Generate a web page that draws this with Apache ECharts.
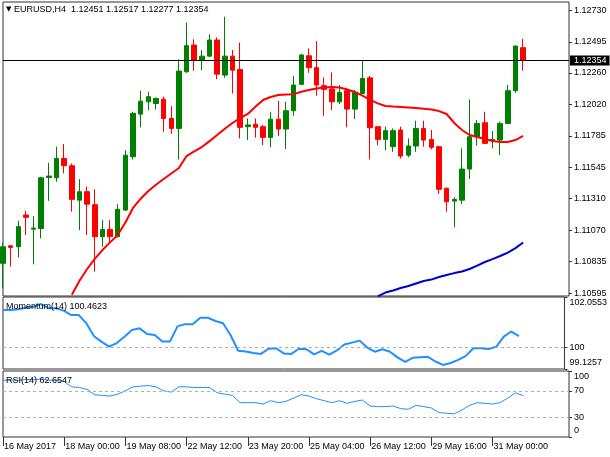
<!DOCTYPE html>
<html><head><meta charset="utf-8">
<script src="https://cdn.jsdelivr.net/npm/echarts@6/dist/echarts.min.js"></script>
<style>html,body{margin:0;padding:0;background:#fff}#c{width:610px;height:457px}</style>
</head><body><div id="c"></div>
<script>
const symbolName = 'EURUSD,H4';
const yearText = '2017';
const H6 = [0, 4, 8, 12, 16, 20];
const sessions = [
  ['16 May', [16, 20]], ['17 May', H6], ['18 May', H6], ['19 May', H6], ['21 May', [20]],
  ['22 May', H6], ['23 May', H6], ['24 May', H6], ['25 May', H6], ['26 May', H6],
  ['28 May', [20]], ['29 May', H6], ['30 May', H6], ['31 May', [0, 4, 8, 12, 16]]
];
const emptySlots = 6;

const opens = [1.10822,1.10954,1.10947,1.11187,1.11080,1.11085,1.11470,1.11468,1.11614,1.11559,
1.11299,1.11363,1.11265,1.11023,1.11078,1.11023,1.11224,1.11627,1.11949,1.12042,
1.12029,1.12062,1.11916,1.11841,1.12269,1.12471,1.12358,1.12387,1.12509,1.12244,
1.12387,1.12286,1.11854,1.11873,1.11854,1.11773,1.11911,1.11836,1.11975,1.12174,
1.12390,1.12300,1.12164,1.12139,1.12042,1.12126,1.11987,1.12105,1.12223,1.11854,
1.11758,1.11703,1.11829,1.11639,1.11708,1.11841,1.11758,1.11703,1.11388,1.11292,
1.11299,1.11534,1.11778,1.11884,1.11748,1.11753,1.11879,1.12126,1.12451];
const closes = [1.10947,1.10942,1.11099,1.11169,1.11088,1.11468,1.11481,1.11614,1.11559,1.11305,
1.11363,1.11269,1.11023,1.11078,1.11023,1.11230,1.11639,1.11955,1.12047,1.12081,
1.12067,1.11916,1.11841,1.12274,1.12466,1.12358,1.12387,1.12509,1.12251,1.12387,
1.12281,1.11849,1.11867,1.11849,1.11773,1.11911,1.11836,1.11975,1.12169,1.12396,
1.12300,1.12169,1.12136,1.12042,1.12113,1.11987,1.12113,1.12218,1.11846,1.11758,
1.11824,1.11824,1.11632,1.11708,1.11841,1.11753,1.11698,1.11381,1.11287,1.11305,
1.11534,1.11778,1.11879,1.11728,1.11758,1.11879,1.12126,1.12463,1.12354];
const lows = [1.10633,1.10797,1.10867,1.11036,1.10814,1.11010,1.11294,1.11438,1.11502,1.11212,
1.11073,1.11036,1.10759,1.10947,1.10985,1.11017,1.11219,1.11606,1.11849,1.11979,
1.11984,1.11816,1.11799,1.11606,1.12261,1.12276,1.12281,1.12383,1.12213,1.12223,
1.12105,1.11766,1.11753,1.11771,1.11715,1.11698,1.11784,1.11685,1.11936,1.12169,
1.12261,1.12088,1.11936,1.11979,1.12024,1.11849,1.11911,1.12101,1.11606,1.11715,
1.11677,1.11664,1.11614,1.11622,1.11664,1.11703,1.11682,1.11346,1.11212,1.11093,
1.11269,1.11458,1.11710,1.11723,1.11690,1.11639,1.11873,1.12111,1.12277];
const highs = [1.10978,1.10960,1.11143,1.11219,1.11178,1.11476,1.11581,1.11703,1.11723,1.11576,
1.11458,1.11401,1.11381,1.11148,1.11148,1.11269,1.11677,1.11967,1.12126,1.12119,
1.12075,1.12081,1.12009,1.12363,1.12640,1.12514,1.12433,1.12552,1.12529,1.12685,
1.12433,1.12489,1.11916,1.11916,1.11867,1.11967,1.12050,1.12042,1.12237,1.12403,
1.12446,1.12501,1.12226,1.12264,1.12169,1.12144,1.12131,1.12358,1.12237,1.11854,
1.11854,1.11841,1.11854,1.11766,1.11899,1.11899,1.11829,1.11710,1.11396,1.11320,
1.11690,1.12060,1.11904,1.11967,1.11821,1.11892,1.12169,1.12468,1.12517];

const maRed = [null,null,null,null,null,null,null,null,null,1.10585,
1.10690,1.10779,1.10855,1.10922,1.10980,1.11036,1.11130,1.11240,1.11310,1.11368,
1.11415,1.11459,1.11500,1.11542,1.11632,1.11668,1.11700,1.11745,1.11791,1.11838,
1.11882,1.11918,1.11950,1.12005,1.12056,1.12078,1.12093,1.12098,1.12100,1.12118,
1.12131,1.12142,1.12151,1.12153,1.12150,1.12135,1.12116,1.12088,1.12056,1.12030,
1.12010,1.12006,1.12003,1.11999,1.11995,1.11990,1.11984,1.11972,1.11950,1.11882,
1.11829,1.11791,1.11776,1.11761,1.11746,1.11738,1.11738,1.11753,1.11784];
const maBlue = [null,null,null,null,null,null,null,null,null,null,
null,null,null,null,null,null,null,null,null,null,
null,null,null,null,null,null,null,null,null,null,
null,null,null,null,null,null,null,null,null,null,
null,null,null,null,null,null,null,null,null,1.10572,
1.10601,1.10616,1.10635,1.10650,1.10669,1.10688,1.10699,1.10718,1.10733,1.10748,
1.10760,1.10779,1.10805,1.10832,1.10854,1.10877,1.10903,1.10937,1.10979];

const momentum = [101.53,101.53,101.56,101.62,101.66,101.77,101.60,101.60,101.50,101.32,
101.32,100.98,100.46,100.23,100.04,100.18,100.44,100.71,100.78,100.55,
100.51,100.24,100.24,100.86,100.95,100.95,101.21,101.21,101.08,100.99,
100.50,99.87,99.84,99.78,99.74,99.95,99.97,99.76,99.74,99.95,
99.93,99.72,99.86,99.71,99.88,100.12,100.20,100.28,100.00,99.83,
99.93,99.83,99.60,99.42,99.58,99.60,99.62,99.43,99.29,99.37,
99.50,99.66,99.97,99.97,99.94,100.03,100.44,100.65,100.4623];
const rsi = [86,86,86,87,87,88,86,86,84,76,
75,72,64,63,62,65,70,76,77,78,
76,70,68,76,76,75,75,75,67,65,
63,52,52,52,50,55,52,54,59,64,
62,58,55,52,55,51,54,56,47,46,
46,47,43,42,48,46,44,37,36,35,
41,48,52,51,50,52,59,67,62.6547];

const priceTicks = [1.10595,1.10835,1.11070,1.11310,1.11545,1.11785,1.12020,1.12260,1.12495,1.12730];
const priceMin = 1.10575, priceMax = 1.12796;
const momMin = 99.1257, momMax = 102.0553, momLevel = 100;
const momTicks = [momMin, momLevel, momMax];
const rsiTicks = [0, 30, 70, 100];
const rsiLevels = [70, 30];

const categories = [];
sessions.forEach(([d, hs]) => hs.forEach(h => categories.push(d + ' ' + String(h).padStart(2, '0') + ':00')));
const xCats = categories.concat(Array(emptySlots).fill(''));
const candles = opens.map((o, i) => [o, closes[i], lows[i], highs[i]]);
const last = opens.length - 1;

const FONTF = 'Liberation Sans, Arial, sans-serif';
const txt = {fontFamily: FONTF, fontSize: 9, color: '#000'};
const BORDER = '#333';

const chart = echarts.init(document.getElementById('c'), null, {renderer: 'canvas'});
const edgeFmt = (min, max, dec) => v => {
  const s = (v === min || v === max) ? (Number.isInteger(v) ? String(v) : v.toFixed(dec)) : String(v);
  if (v === max) return '\n' + s;
  if (v === min) return s + '\n';
  return s;
};

const option = {
  animation: false,
  backgroundColor: '#fff',
  title: [
    {text: '{t|▼} ' + symbolName + '  ' + [opens[last], highs[last], lows[last], closes[last]].map(v => v.toFixed(5)).join(' '),
     left: 6, top: 5, padding: 0,
     textStyle: Object.assign({}, txt, {fontWeight: 'normal', rich: {t: {fontSize: 7, fontFamily: 'DejaVu Sans', color: '#000'}}})},
    {text: 'Momentum(14) ' + momentum[last].toFixed(4), left: 6, top: 302, padding: 0,
     textStyle: Object.assign({}, txt, {fontWeight: 'normal'})},
    {text: 'RSI(14) ' + rsi[last].toFixed(4), left: 6, top: 376, padding: 0,
     textStyle: Object.assign({}, txt, {fontWeight: 'normal'})}
  ],
  grid: [
    {left: 3, right: 41, top: 2, height: 294, show: true, borderColor: BORDER, borderWidth: 1},
    {left: 3, right: 41, top: 297, height: 72, show: true, borderColor: BORDER, borderWidth: 1},
    {left: 3, right: 41, top: 371, height: 66, show: true, borderColor: BORDER, borderWidth: 1}
  ],
  xAxis: [0, 1, 2].map(k => ({
    type: 'category', gridIndex: k, data: xCats, boundaryGap: false,
    axisLine: {show: false}, splitLine: {show: false},
    axisTick: {show: k === 2, length: 9, interval: (i, v) => v !== '' && i % 8 === 0, lineStyle: {color: BORDER}},
    axisLabel: Object.assign({}, txt, {
      show: k === 2, interval: 7, align: 'left', margin: 5, padding: [0, 0, 0, 1],
      formatter: (v, i) => v === '' ? '' : (i === 0 ? v.slice(0, 6) + ' ' + yearText : v)
    })
  })),
  yAxis: [
    {type: 'value', gridIndex: 0, position: 'right', min: priceMin, max: priceMax,
     splitLine: {show: false}, axisLine: {show: false},
     axisTick: {show: true, length: 3, customValues: priceTicks, lineStyle: {color: BORDER}},
     axisLabel: Object.assign({}, txt, {customValues: priceTicks, margin: 5, showMinLabel: true, showMaxLabel: true, formatter: v => v.toFixed(5)})},
    {type: 'value', gridIndex: 1, position: 'right', min: momMin, max: momMax,
     splitLine: {show: false}, axisLine: {show: false},
     axisTick: {show: true, length: 3, customValues: momTicks, lineStyle: {color: BORDER}},
     axisLabel: Object.assign({}, txt, {customValues: momTicks, margin: 5, lineHeight: 12, showMinLabel: true, showMaxLabel: true, hideOverlap: false, formatter: edgeFmt(momMin, momMax, 4)})},
    {type: 'value', gridIndex: 2, position: 'right', min: 0, max: 100,
     splitLine: {show: false}, axisLine: {show: false},
     axisTick: {show: true, length: 3, customValues: rsiTicks, lineStyle: {color: BORDER}},
     axisLabel: Object.assign({}, txt, {customValues: rsiTicks, margin: 5, lineHeight: 12, showMinLabel: true, showMaxLabel: true, hideOverlap: false, formatter: edgeFmt(0, 100, 0)})}
  ],
  series: [
    {type: 'candlestick', xAxisIndex: 0, yAxisIndex: 0, data: candles, barWidth: 5, silent: true,
     itemStyle: {color: '#008000', color0: '#ff0000', borderColor: '#008000', borderColor0: '#ff0000', borderWidth: 1}},
    {type: 'line', xAxisIndex: 0, yAxisIndex: 0, data: maRed, showSymbol: false, silent: true,
     lineStyle: {color: '#ff0000', width: 2}, itemStyle: {color: '#ff0000'},
     markLine: {symbol: ['none', 'none'], silent: true, animation: false, precision: 5,
       lineStyle: {color: '#000', width: 1, type: 'solid'},
       emphasis: {disabled: true},
       label: {position: 'end', distance: 1, formatter: p => Number(p.value).toFixed(5), backgroundColor: '#000',
               color: '#fff', padding: [1, 3, 0, 4], fontFamily: FONTF, fontSize: 9},
       data: [{yAxis: closes[last]}]}},
    {type: 'line', xAxisIndex: 0, yAxisIndex: 0, data: maBlue, showSymbol: false, silent: true,
     lineStyle: {color: '#0000cd', width: 2}, itemStyle: {color: '#0000cd'}},
    {type: 'line', xAxisIndex: 1, yAxisIndex: 1, data: momentum, showSymbol: false, silent: true,
     lineStyle: {color: '#1e90ff', width: 2}, itemStyle: {color: '#1e90ff'},
     markLine: {symbol: ['none', 'none'], silent: true, label: {show: false}, emphasis: {disabled: true},
       lineStyle: {color: '#b0b0b0', width: 1, type: [3, 3]}, data: [{yAxis: momLevel}]}},
    {type: 'line', xAxisIndex: 2, yAxisIndex: 2, data: rsi, showSymbol: false, silent: true,
     lineStyle: {color: '#1e90ff', width: 1}, itemStyle: {color: '#1e90ff'},
     markLine: {symbol: ['none', 'none'], silent: true, label: {show: false}, emphasis: {disabled: true},
       lineStyle: {color: '#b0b0b0', width: 1, type: [3, 3]}, data: rsiLevels.map(v => ({yAxis: v}))}}
  ]
};
chart.setOption(option);
</script>
</body></html>
